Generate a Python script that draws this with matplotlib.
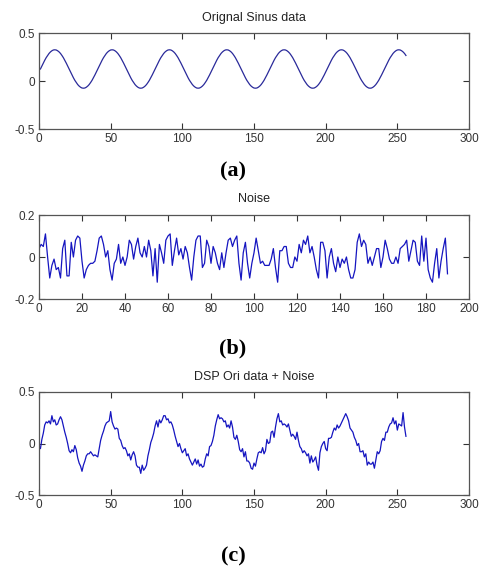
import numpy as np
import matplotlib
matplotlib.use('Agg')
import matplotlib.pyplot as plt

# original sinus (256 samples)
sinus = [
    0.125, 0.156, 0.187, 0.216, 0.243, 0.266, 0.287, 0.303, 0.315, 0.323, 0.325, 0.323, 0.315, 0.303, 0.287, 0.266, 0.243, 0.216, 0.187, 0.156,
    0.125, 0.094, 0.063, 0.034, 0.007, -0.016, -0.037, -0.053, -0.065, -0.073, -0.075, -0.073, -0.065, -0.053, -0.037, -0.016, 0.007, 0.034, 0.063, 0.094,
    0.125, 0.156, 0.187, 0.216, 0.243, 0.266, 0.287, 0.303, 0.315, 0.323, 0.325, 0.323, 0.315, 0.303, 0.287, 0.266, 0.243, 0.216, 0.187, 0.156,
    0.125, 0.094, 0.063, 0.034, 0.007, -0.016, -0.037, -0.053, -0.065, -0.073, -0.075, -0.073, -0.065, -0.053, -0.037, -0.016, 0.007, 0.034, 0.063, 0.094,
    0.125, 0.156, 0.187, 0.216, 0.243, 0.266, 0.287, 0.303, 0.315, 0.323, 0.325, 0.323, 0.315, 0.303, 0.287, 0.266, 0.243, 0.216, 0.187, 0.156,
    0.125, 0.094, 0.063, 0.034, 0.007, -0.016, -0.037, -0.053, -0.065, -0.073, -0.075, -0.073, -0.065, -0.053, -0.037, -0.016, 0.007, 0.034, 0.063, 0.094,
    0.125, 0.156, 0.187, 0.216, 0.243, 0.266, 0.287, 0.303, 0.315, 0.323, 0.325, 0.323, 0.315, 0.303, 0.287, 0.266, 0.243, 0.216, 0.187, 0.156,
    0.125, 0.094, 0.063, 0.034, 0.007, -0.016, -0.037, -0.053, -0.065, -0.073, -0.075, -0.073, -0.065, -0.053, -0.037, -0.016, 0.007, 0.034, 0.063, 0.094,
    0.125, 0.156, 0.187, 0.216, 0.243, 0.266, 0.287, 0.303, 0.315, 0.323, 0.325, 0.323, 0.315, 0.303, 0.287, 0.266, 0.243, 0.216, 0.187, 0.156,
    0.125, 0.094, 0.063, 0.034, 0.007, -0.016, -0.037, -0.053, -0.065, -0.073, -0.075, -0.073, -0.065, -0.053, -0.037, -0.016, 0.007, 0.034, 0.063, 0.094,
    0.125, 0.156, 0.187, 0.216, 0.243, 0.266, 0.287, 0.303, 0.315, 0.323, 0.325, 0.323, 0.315, 0.303, 0.287, 0.266, 0.243, 0.216, 0.187, 0.156,
    0.125, 0.094, 0.063, 0.034, 0.007, -0.016, -0.037, -0.053, -0.065, -0.073, -0.075, -0.073, -0.065, -0.053, -0.037, -0.016, 0.007, 0.034, 0.063, 0.094,
    0.125, 0.156, 0.187, 0.216, 0.243, 0.266, 0.287, 0.303, 0.315, 0.323, 0.325, 0.323, 0.315, 0.303, 0.287, 0.266,
]

# noise (191 samples, panel b)
noise = [
    0.04, 0.06, 0.05, 0.11, 0.0, -0.10, -0.04, -0.01, -0.06, -0.05,
    -0.10, 0.04, 0.08, -0.09, -0.09, 0.07, 0.0, 0.08, 0.10, 0.09,
    -0.02, -0.10, -0.06, -0.04, -0.03, -0.03, -0.02, 0.03, 0.09, 0.10,
    0.06, 0.0, 0.03, -0.06, -0.11, -0.03, -0.01, 0.06, -0.03, 0.0,
    -0.04, 0.0, 0.08, 0.06, -0.01, 0.05, 0.09, 0.02, 0.0, 0.05,
    0.0, 0.08, 0.03, -0.09, 0.04, -0.12, 0.06, 0.02, -0.03, 0.08,
    0.10, 0.11, -0.04, 0.03, 0.09, 0.01, 0.04, -0.01, 0.05, 0.02,
    -0.05, -0.11, 0.0, 0.08, 0.10, 0.10, -0.05, -0.03, 0.08, 0.05,
    -0.03, 0.05, 0.02, -0.03, -0.06, 0.02, -0.05, 0.02, 0.08, 0.09,
    0.05, 0.08, 0.10, -0.03, -0.11, 0.02, 0.07, -0.03, -0.10, -0.03,
    0.02, 0.09, 0.03, -0.03, -0.02, -0.04, -0.04, -0.04, -0.01, 0.04,
    -0.05, -0.12, 0.03, 0.03, 0.05, 0.05, -0.03, -0.05, -0.05, 0.0,
    -0.02, 0.06, 0.02, 0.08, 0.06, 0.10, 0.02, 0.05, 0.0, -0.06,
    -0.10, 0.07, 0.07, 0.03, -0.10, 0.0, 0.04, -0.03, -0.07, 0.0,
    -0.05, -0.01, -0.03, 0.0, -0.06, -0.10, -0.10, -0.06, 0.07, 0.11,
    0.05, 0.08, 0.06, -0.03, 0.0, -0.04, 0.0, 0.04, 0.04, -0.05,
    0.0, 0.08, 0.04, -0.01, -0.03, -0.03, 0.0, -0.03, 0.04, 0.05,
    0.06, 0.08, -0.02, 0.03, 0.08, 0.07, -0.02, -0.04, 0.10, -0.02,
    0.09, -0.06, -0.10, -0.12, -0.03, 0.04, -0.10, -0.02, 0.04, 0.09,
    -0.08,
]

# sinus + noise as shown in panel c (257 samples)
noisy = [
    -0.02, -0.05, 0.04, 0.10, 0.18, 0.21, 0.20, 0.22, 0.19, 0.27,
    0.21, 0.23, 0.18, 0.19, 0.23, 0.26, 0.23, 0.17, 0.11, 0.06,
    0.0, -0.07, -0.09, -0.06, -0.08, -0.02, -0.06, -0.14, -0.19, -0.22,
    -0.27, -0.21, -0.17, -0.12, -0.10, -0.10, -0.08, -0.10, -0.12, -0.11,
    -0.12, -0.13, -0.05, 0.03, 0.08, 0.12, 0.17, 0.20, 0.21, 0.22,
    0.31, 0.21, 0.17, 0.14, 0.15, 0.14, 0.05, 0.03, -0.02, -0.05,
    -0.04, -0.07, -0.12, -0.10, -0.16, -0.11, -0.08, -0.12, -0.21, -0.23,
    -0.23, -0.29, -0.21, -0.26, -0.24, -0.21, -0.12, -0.06, 0.01, 0.05,
    0.10, 0.17, 0.22, 0.16, 0.23, 0.20, 0.23, 0.27, 0.27, 0.23,
    0.24, 0.20, 0.21, 0.18, 0.13, 0.07, 0.02, -0.03, 0.0, -0.05,
    -0.09, -0.07, -0.05, -0.12, -0.10, -0.15, -0.18, -0.21, -0.18, -0.15,
    -0.20, -0.16, -0.22, -0.20, -0.23, -0.22, -0.15, -0.10, -0.12, -0.03,
    -0.02, 0.02, 0.08, 0.17, 0.23, 0.28, 0.24, 0.25, 0.24, 0.21,
    0.22, 0.16, 0.18, 0.15, 0.22, 0.16, 0.06, 0.04, 0.08, 0.02,
    -0.06, -0.08, -0.05, -0.13, -0.08, -0.17, -0.17, -0.19, -0.24, -0.25,
    -0.19, -0.22, -0.15, -0.09, -0.08, -0.09, -0.04, -0.10, -0.07, 0.04,
    0.0, 0.01, 0.11, 0.12, 0.06, 0.16, 0.24, 0.29, 0.21, 0.22,
    0.18, 0.19, 0.18, 0.16, 0.19, 0.13, 0.07, 0.09, 0.07, 0.04,
    0.11, 0.03, -0.03, -0.05, -0.09, -0.07, -0.09, -0.12, -0.10, -0.19,
    -0.12, -0.18, -0.16, -0.13, -0.21, -0.26, -0.09, -0.03, 0.0, 0.02,
    -0.05, -0.07, 0.05, 0.05, 0.06, 0.11, 0.15, 0.13, 0.18, 0.15,
    0.17, 0.20, 0.23, 0.26, 0.29, 0.26, 0.22, 0.15, 0.13, 0.11,
    0.06, 0.03, -0.02, 0.0, -0.08, -0.08, -0.07, -0.13, -0.10, -0.21,
    -0.18, -0.20, -0.20, -0.18, -0.24, -0.16, -0.08, -0.10, -0.07, 0.02,
    0.05, 0.03, 0.11, 0.11, 0.16, 0.19, 0.20, 0.25, 0.19, 0.22,
    0.13, 0.19, 0.18, 0.17, 0.30, 0.16, 0.07,
]

titles = ['Orignal Sinus data', 'Noise', 'DSP Ori data + Noise']
panel_labels = ['(a)', '(b)', '(c)']

plt.rcParams['font.family'] = ['Liberation Sans', 'DejaVu Sans']
plt.rcParams['axes.unicode_minus'] = False

fig = plt.figure(figsize=(4.79, 5.68), dpi=100)
W, H = 479, 568


def add_ax(left, top, right, bottom):
    return fig.add_axes([left / W, 1 - bottom / H, (right - left) / W, (bottom - top) / H])


def style(ax, title):
    ax.set_title(title, fontsize=9, pad=9, color='#222222')
    ax.tick_params(direction='in', length=4, width=0.8, top=True, right=True,
                   labelsize=8.5, colors='#333333', pad=3)
    for s in ax.spines.values():
        s.set_color('#555555')
        s.set_linewidth(0.9)


ax1 = add_ax(39, 33, 469, 129)
ax1.plot(np.arange(1, len(sinus) + 1), sinus, color='#2a2a9a', lw=0.9)
ax1.set_xlim(0, 300)
ax1.set_ylim(-0.5, 0.5)
ax1.set_xticks(range(0, 301, 50))
ax1.set_yticks([-0.5, 0, 0.5])
ax1.set_yticklabels(['-0.5', '0', '0.5'])
style(ax1, titles[0])

ax2 = add_ax(39, 215, 469, 299)
ax2.plot(np.arange(len(noise)), noise, color='#1515c0', lw=0.9)
ax2.set_xlim(0, 200)
ax2.set_ylim(-0.2, 0.2)
ax2.set_xticks(range(0, 201, 20))
ax2.set_yticks([-0.2, 0, 0.2])
ax2.set_yticklabels(['-0.2', '0', '0.2'])
style(ax2, titles[1])

ax3 = add_ax(39, 392, 469, 495)
ax3.plot(np.arange(len(noisy)), noisy, color='#1515c0', lw=0.9)
ax3.set_xlim(0, 300)
ax3.set_ylim(-0.5, 0.5)
ax3.set_xticks(range(0, 301, 50))
ax3.set_yticks([-0.5, 0, 0.5])
ax3.set_yticklabels(['-0.5', '0', '0.5'])
style(ax3, titles[2])

for lab, yc in zip(panel_labels, [171, 348, 556]):
    fig.text(233 / W, 1 - yc / H, lab, ha='center', va='center', fontsize=16,
             fontweight='bold', family=['Liberation Serif', 'DejaVu Serif'])

fig.savefig('out.png', dpi=100, facecolor='white')
